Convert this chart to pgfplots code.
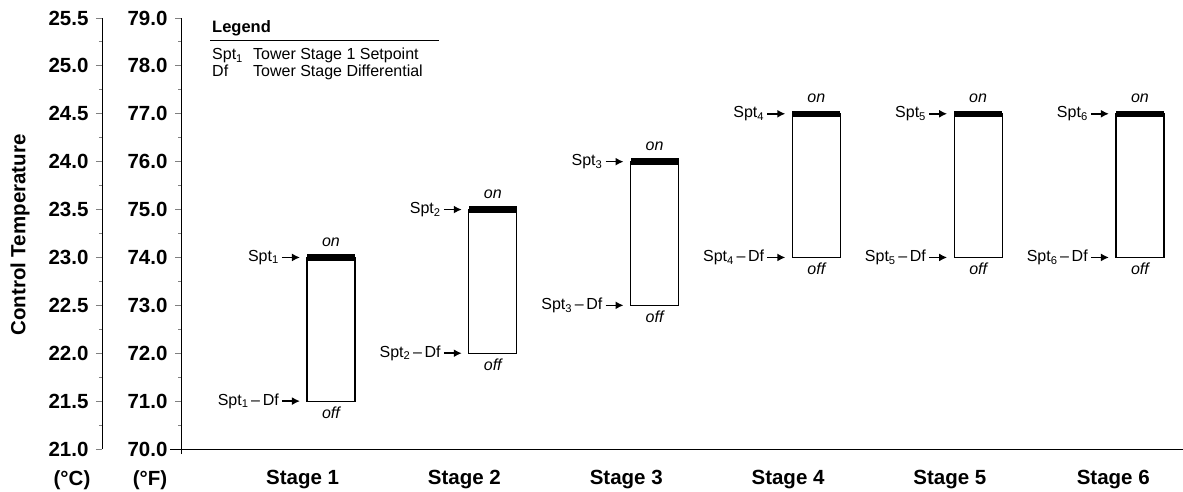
\documentclass[border=0pt]{standalone}
\usepackage{pgfplots}
\pgfplotsset{compat=1.18}
\usepackage{pgfplotstable}
\usepackage{fontspec}
\setmainfont{Liberation Sans}
\usetikzlibrary{arrows.meta}

\pgfplotstableread{
stage off df on
1 71 3 74
2 72 3 75
3 73 3 76
4 74 3 77
5 74 3 77
6 74 3 77
}\stagedata

\newcommand\bigfont{\bfseries\fontsize{20.5}{24}\selectfont}
\newcommand\annfont{\fontsize{16}{19}\selectfont}

\newcommand\stagelab[3]{%
  \node[font=\annfont\itshape, anchor=base, inner sep=0pt] at ([yshift=11pt]axis cs:#1,#2) {on};
  \node[font=\annfont\itshape, anchor=base, inner sep=0pt] at ([yshift=-17pt]axis cs:#1,#3) {off};
  \draw[line width=1.6pt, -{Latex[length=8pt,width=8pt]}] ([xshift=-49pt]axis cs:#1,#2) -- ([xshift=-31pt]axis cs:#1,#2);
  \draw[line width=1.6pt, -{Latex[length=8pt,width=8pt]}] ([xshift=-49pt]axis cs:#1,#3) -- ([xshift=-31pt]axis cs:#1,#3);
  \node[font=\annfont, anchor=east, inner sep=0pt] at ([xshift=-52pt]axis cs:#1,#2) {Spt\textsubscript{#1}};
  \node[font=\annfont, anchor=east, inner sep=0pt] at ([xshift=-52pt]axis cs:#1,#3) {Spt\textsubscript{#1}\,--\,Df};
}

\begin{document}
\begin{tikzpicture}
\path[use as bounding box] (0,0) rectangle (1183pt,491pt);

% Celsius axis
\begin{axis}[
  at={(102pt,42pt)}, anchor=south west,
  scale only axis, width=10pt, height=431pt,
  xmin=0, xmax=1, ymin=21, ymax=25.5,
  hide x axis, axis y line=left,
  axis line style={-, line width=1pt},
  ytick={21,21.5,22,22.5,23,23.5,24,24.5,25,25.5},
  minor y tick num=1,
  tick align=outside, major tick length=6pt, minor tick length=3pt,
  tick style={line width=1pt},
  yticklabel style={font=\bigfont, xshift=-4pt, /pgf/number format/.cd, fixed, fixed zerofill, precision=1, assume math mode=true},
]
\end{axis}

% Fahrenheit axis with boxes
\begin{axis}[
  at={(181pt,42pt)}, anchor=south west,
  scale only axis, width=1002pt, height=431pt,
  xmin=0.073, xmax=6.266, ymin=70, ymax=79,
  axis x line=bottom, axis y line=left,
  axis line style={-, line width=1pt},
  x axis line style={shorten <=-11pt},
  y axis line style={shorten <=-5pt},
  ytick={70,71,72,73,74,75,76,77,78,79},
  minor y tick num=1,
  tick align=outside, major tick length=6pt, minor tick length=3pt,
  tick style={line width=1pt},
  x tick style={draw=none},
  yticklabel style={font=\bigfont, xshift=-4pt, /pgf/number format/.cd, fixed, fixed zerofill, precision=1, assume math mode=true},
  xtick={0.825,1.825,2.825,3.825,4.825,5.835},
  xticklabels={Stage 1,Stage 2,Stage 3,Stage 4,Stage 5,Stage 6},
  xticklabel style={font=\bigfont, anchor=base, inner sep=0pt, yshift=-29pt},
  ybar stacked, bar width=48pt,
]
\addplot[draw=none, fill=none] table[x=stage, y=off] {\stagedata};
\addplot[draw=black, fill=white, line width=1.2pt] table[x=stage, y=df] {\stagedata};
\end{axis}

% overlay: setpoint bands and annotations
\begin{axis}[
  at={(181pt,42pt)}, anchor=south west,
  scale only axis, width=1002pt, height=431pt,
  xmin=0.073, xmax=6.266, ymin=70, ymax=79,
  hide axis, clip=false,
]
\addplot[only marks, mark=-, mark size=24pt, mark options={line width=6.5pt, black}] table[x=stage, y=on] {\stagedata};
\stagelab{1}{74}{71}
\stagelab{2}{75}{72}
\stagelab{3}{76}{73}
\stagelab{4}{77}{74}
\stagelab{5}{77}{74}
\stagelab{6}{77}{74}
\end{axis}

% outer texts
\node[font=\bigfont, rotate=90, inner sep=0pt] at (20pt,256pt) {Control Temperature};
\node[font=\bigfont, anchor=base, inner sep=0pt] at (72pt,6pt) {(°C)};
\node[font=\bigfont, anchor=base, inner sep=0pt] at (150pt,6pt) {(°F)};

% legend
\node[font=\bfseries\fontsize{16.5}{19}\selectfont, anchor=base west, inner sep=0pt] at (212pt,458pt) {Legend};
\draw[line width=1pt] (210pt,450pt) -- (439pt,450pt);
\node[font=\fontsize{16}{19}\selectfont, anchor=base west, inner sep=0pt] at (212pt,431pt) {Spt\textsubscript{1}};
\node[font=\fontsize{16}{19}\selectfont, anchor=base west, inner sep=0pt] at (253pt,431pt) {Tower Stage 1 Setpoint};
\node[font=\fontsize{16}{19}\selectfont, anchor=base west, inner sep=0pt] at (212pt,414pt) {Df};
\node[font=\fontsize{16}{19}\selectfont, anchor=base west, inner sep=0pt] at (253pt,414pt) {Tower Stage Differential};
\end{tikzpicture}
\end{document}
